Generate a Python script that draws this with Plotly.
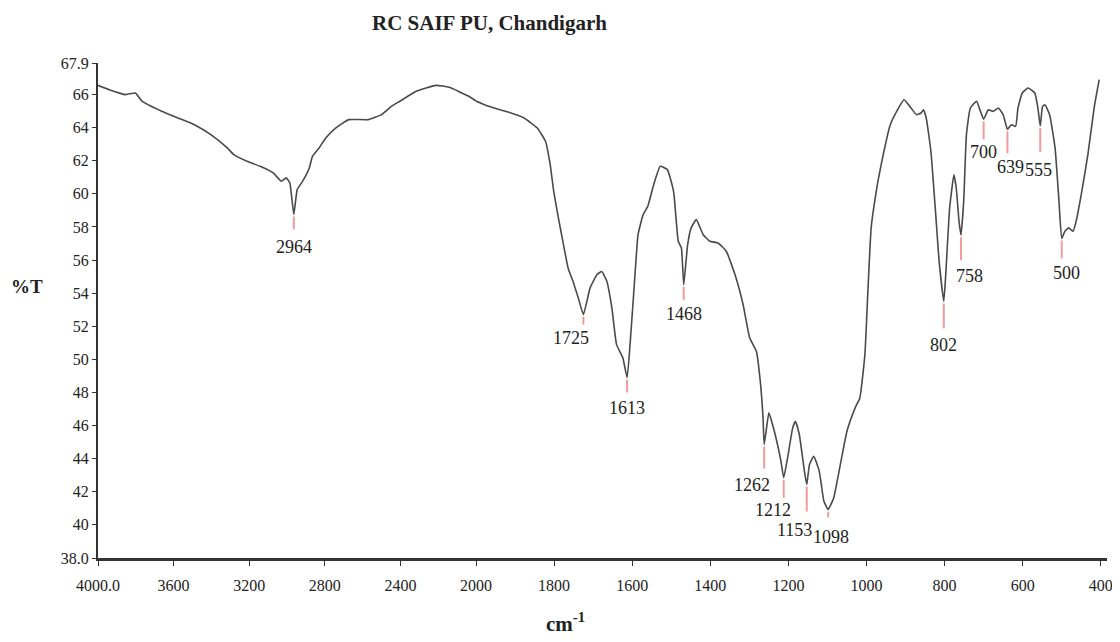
import numpy as np
import plotly.graph_objects as go
from plotly.subplots import make_subplots

# FTIR spectrum (wavenumber cm-1, %T)
wavenumber = [
    4000, 3941, 3854, 3802, 3767, 3663, 3577, 3490, 3403, 3316, 3281, 3212,
    3142, 3073, 3030, 3004, 2985, 2964, 2946, 2917, 2882, 2865, 2830, 2795,
    2743, 2674, 2569, 2500, 2448, 2403, 2316, 2212, 2142, 2038, 2000,
    1968, 1918, 1877, 1843, 1822, 1810, 1801, 1789, 1776, 1764, 1750, 1738,
    1725, 1708, 1690, 1678, 1665, 1652, 1640, 1624, 1613, 1603, 1594, 1585,
    1572, 1560, 1545, 1528, 1510, 1494, 1482, 1474, 1468, 1458, 1449, 1436,
    1418, 1401, 1380, 1359, 1334, 1316, 1299, 1282, 1272, 1265, 1262, 1257,
    1250, 1236, 1219, 1212, 1202, 1189, 1182, 1172, 1159, 1153, 1146, 1135,
    1121, 1109, 1098, 1084, 1067, 1050, 1029, 1017, 1004, 996, 988, 976,
    964, 939, 918, 904, 889, 872, 860, 854, 847, 835, 822, 814, 802, 797,
    787, 776, 770, 763, 758, 751, 744, 734, 718, 708, 700, 688, 676, 662,
    650, 639, 629, 618, 612, 601, 586, 569, 561, 555, 549, 543, 531, 517,
    507, 500, 492, 482, 471, 463, 450, 433, 417, 404,
]
transmittance = [
    66.55, 66.29, 65.99, 66.09, 65.59, 64.98, 64.58, 64.17, 63.57, 62.77, 62.36, 61.96,
    61.66, 61.26, 60.76, 60.96, 60.65, 58.75, 60.25, 60.76, 61.56, 62.27, 62.77, 63.37,
    63.97, 64.48, 64.48, 64.78, 65.28, 65.59, 66.19, 66.55, 66.43, 65.89, 65.60,
    65.28, 64.94, 64.58, 63.97, 63.17, 61.76, 60.15, 58.54, 56.93, 55.50, 54.60, 53.70,
    52.70, 54.30, 55.12, 55.30, 54.72, 53.11, 50.89, 50.09, 48.90, 51.70, 54.72, 57.53,
    58.74, 59.25, 60.55, 61.66, 61.46, 60.15, 57.13, 56.73, 54.50, 56.93, 57.94, 58.44,
    57.53, 57.13, 57.03, 56.53, 54.92, 53.31, 51.29, 50.49, 48.68, 46.50, 44.85, 45.66,
    46.77, 45.66, 43.85, 42.84, 44.05, 45.86, 46.26, 45.46, 43.25, 42.44, 43.64, 44.15,
    43.25, 41.43, 40.93, 41.63, 43.64, 45.66, 47.07, 47.67, 50.29, 54.31, 57.94, 60.00,
    61.56, 64.17, 65.18, 65.68, 65.28, 64.78, 64.88, 65.08, 64.58, 62.57, 58.54, 55.93, 53.50, 55.12,
    59.14, 61.15, 60.35, 58.34, 57.50, 59.55, 63.57, 65.18, 65.59, 64.98, 64.50, 65.08, 64.98, 65.18,
    64.78, 63.90, 64.17, 64.07, 65.18, 66.09, 66.39, 66.09, 65.18, 64.10, 65.28, 65.38, 64.78, 62.77,
    59.55, 57.30, 57.74, 57.94, 57.74, 58.34, 59.95, 62.36, 65.18, 66.89,
]

peak_labels = [2964, 1725, 1613, 1468, 1262, 1212, 1153, 1098, 802, 758, 700, 639, 555, 500]

y_ticks = [38, 40, 42, 44, 46, 48, 50, 52, 54, 56, 58, 60, 62, 64, 66, 67.9]
y_ticktext = ["38.0", "40", "42", "44", "46", "48", "50", "52", "54", "56", "58", "60", "62", "64", "66", "67.9"]
x_ticks_high = [4000, 3600, 3200, 2800, 2400, 2000]
x_ticktext_high = ["4000.0", "3600", "3200", "2800", "2400", "2000"]
x_ticks_low = [1800, 1600, 1400, 1200, 1000, 800, 600, 400]

# label placement: (red line length px, text dx px, text dy px)
label_style = {
    2964: (15, 0, 33), 1725: (10, -12, 23), 1613: (15, 0, 30), 1468: (15, 0, 29),
    1262: (24, -12, 40), 1212: (20, -11, 32), 1153: (27, -12, 46), 1098: (8, 3, 28),
    802: (27, 0, 44), 758: (25, 9, 41), 700: (20, 0, 33), 639: (24, 3, 38),
    555: (26, -2, 44), 500: (20, 5, 35),
}

FONT = "Liberation Serif, Times New Roman, serif"
LINE = "#4a4a4a"
RED = "#f29a9a"
TXT = "#222"

wn = np.array(wavenumber)
tr = np.array(transmittance)
hi = wn >= 2000
lo = wn <= 2000

# FTIR scale changes at 2000 cm-1: two panels side by side sharing %T
fig = make_subplots(rows=1, cols=2, shared_yaxes=True, horizontal_spacing=0,
                    column_widths=[384, 641])
curve = dict(color=LINE, width=1.6, shape="spline", smoothing=0.4)
fig.add_trace(go.Scatter(x=wn[hi], y=tr[hi], mode="lines", line=curve, showlegend=False),
              row=1, col=1)
fig.add_trace(go.Scatter(x=wn[lo], y=tr[lo], mode="lines", line=curve, showlegend=False),
              row=1, col=2)

shapes = []
annotations = []
for p in peak_labels:
    t = float(np.interp(p, wn[::-1], tr[::-1]))
    xr = "x" if p >= 2000 else "x2"
    length, dx, dy = label_style[p]
    shapes.append(dict(type="line", xref=xr, yref="y", x0=p, x1=p,
                       ysizemode="pixel", yanchor=t, y0=-2, y1=-length,
                       line=dict(color=RED, width=2)))
    annotations.append(dict(x=p, y=t, xref=xr, yref="y", text=str(p), showarrow=False,
                            xanchor="center", yanchor="middle",
                            xshift=dx, yshift=-dy, font=dict(family=FONT, size=18, color=TXT)))

annotations += [
    dict(text="<b>RC SAIF PU, Chandigarh</b>", xref="paper", yref="paper",
         x=(488 - 90) / 1025, y=1 + 40 / 495, xanchor="center", yanchor="middle",
         showarrow=False, font=dict(family=FONT, size=21, color=TXT)),
    dict(text="<b>%T</b>", xref="paper", yref="paper", x=-72 / 1025, y=(550 - 278) / 495,
         xanchor="center", yanchor="middle",
         showarrow=False, font=dict(family=FONT, size=19, color=TXT)),
    dict(text="<b>cm<sup>-1</sup></b>", xref="paper", yref="paper",
         x=(565 - 90) / 1025, y=-(614 - 550) / 495, xanchor="center", yanchor="middle",
         showarrow=False, font=dict(family=FONT, size=21, color=TXT)),
]

axis_font = dict(family=FONT, size=16, color=TXT)
fig.update_layout(
    width=1120, height=642,
    margin=dict(l=90, r=5, t=55, b=92),
    paper_bgcolor="white", plot_bgcolor="white",
    shapes=shapes, annotations=annotations,
)
fig.update_xaxes(showgrid=False, zeroline=False, showline=True, linecolor="#333",
                 linewidth=3, ticks="outside", ticklen=5, tickcolor="#333",
                 tickfont=axis_font, ticklabelstandoff=6)
fig.update_xaxes(range=[4000, 2000], tickvals=x_ticks_high, ticktext=x_ticktext_high, row=1, col=1)
fig.update_xaxes(range=[2000, 384], tickvals=x_ticks_low, row=1, col=2)
fig.update_yaxes(range=[38, 67.9], tickvals=y_ticks, ticktext=y_ticktext, showgrid=False,
                 zeroline=False, row=1, col=1, showline=True, linecolor="#333", linewidth=2,
                 ticks="outside", ticklen=4, tickcolor="#333", tickfont=axis_font)
fig.update_yaxes(showgrid=False, zeroline=False, showline=False, ticks="", row=1, col=2)

fig.write_html("out.html")
